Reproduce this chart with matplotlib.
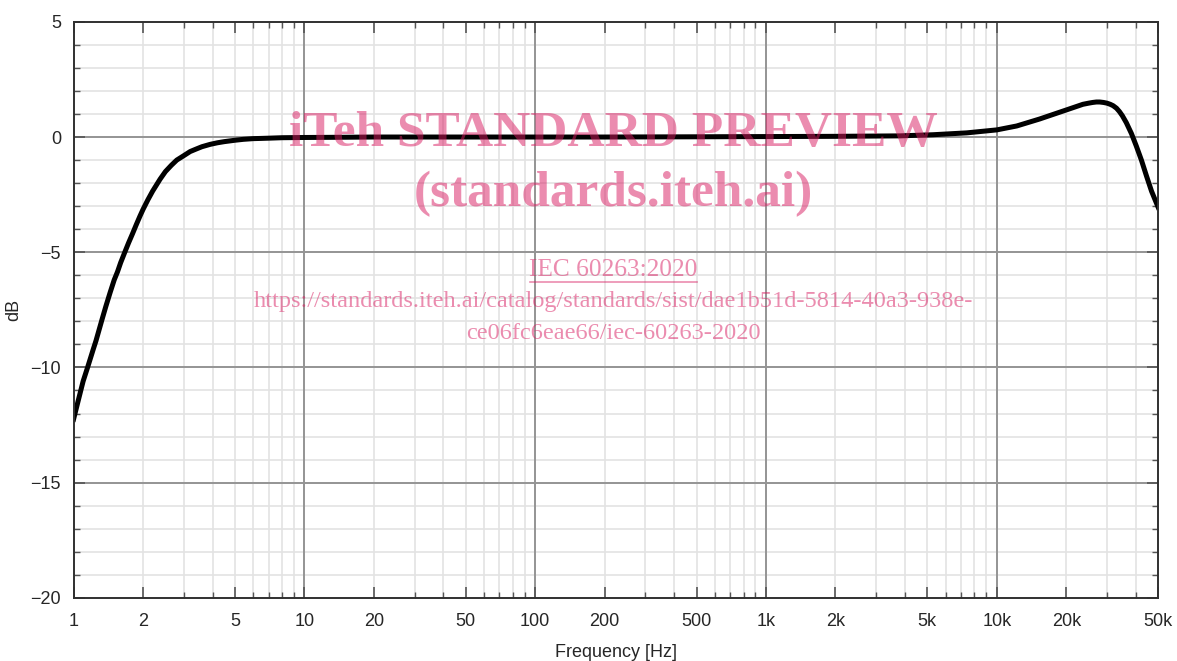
import matplotlib
matplotlib.use("Agg")
import matplotlib.pyplot as plt

# frequency response
freq = [1.0, 1.05, 1.1, 1.15, 1.218, 1.25, 1.33, 1.38, 1.44, 1.5, 1.55, 1.6, 1.67,
        1.73, 1.8, 1.87, 1.94, 2.0, 2.1, 2.2, 2.37, 2.5, 2.65, 2.8, 2.99, 3.2,
        3.4, 3.6, 3.9, 4.2, 4.5, 5.0, 5.44, 6.0, 6.5, 7.0, 8.0, 10, 15, 20, 30,
        50, 100, 200, 500, 1000, 2000, 3800, 5300, 7400, 10000, 12200, 15300,
        19800, 23600, 25000, 26000, 27000, 27900, 29000, 30000, 31000, 31900,
        33000, 34000, 35000, 36400, 38300, 40200, 42300, 44500, 46800, 50000]
gain = [-12.25, -11.4, -10.6, -10.0, -9.2, -8.85, -7.9, -7.35, -6.75, -6.2, -5.85,
        -5.45, -4.98, -4.6, -4.2, -3.8, -3.43, -3.14, -2.72, -2.35, -1.83, -1.5,
        -1.23, -1.0, -0.82, -0.63, -0.52, -0.42, -0.32, -0.25, -0.2, -0.14,
        -0.1, -0.07, -0.06, -0.05, -0.03, -0.02, -0.01, 0.0, 0.0, 0.0, 0.0, 0.0,
        0.01, 0.02, 0.03, 0.05, 0.1, 0.18, 0.31, 0.48, 0.78, 1.16, 1.42, 1.47,
        1.5, 1.52, 1.52, 1.5, 1.47, 1.42, 1.36, 1.25, 1.1, 0.92, 0.62, 0.15,
        -0.39, -1.0, -1.69, -2.35, -3.05]

xticks = [1, 2, 5, 10, 20, 50, 100, 200, 500, 1000, 2000, 5000, 10000, 20000, 50000]
xlabels = ['1', '2', '5', '10', '20', '50', '100', '200', '500',
           '1k', '2k', '5k', '10k', '20k', '50k']

plt.rcParams['font.family'] = ['Liberation Sans', 'DejaVu Sans']

fig = plt.figure(figsize=(11.77, 6.61), dpi=100)
ax = fig.add_axes([0.0625, 0.0955, 0.9215, 0.8715])

ax.set_xscale('log')
ax.set_xlim(1, 50000)
ax.set_ylim(-20, 5)

# grid: decades dark, 2..9 light
minor_x = [m * 10 ** d for d in range(5) for m in range(2, 10) if m * 10 ** d < 50000]
for v in minor_x:
    ax.axvline(v, color='#e3e3e3', lw=1.2, zorder=0)
for d in range(1, 5):
    ax.axvline(10 ** d, color='#949494', lw=1.4, zorder=1)
for v in range(-19, 5):
    ax.axhline(v, color='#e3e3e3', lw=1.2, zorder=0)
for v in range(-15, 5, 5):
    ax.axhline(v, color='#949494', lw=1.4, zorder=1)

ax.plot(freq, gain, color='black', lw=3.6, solid_joinstyle='round', zorder=3)

ax.set_xticks(xticks)
ax.set_xticklabels(xlabels)
ax.set_xticks([v for v in minor_x if v not in xticks], minor=True)
ax.set_xticklabels([], minor=True)
ax.set_yticks(range(-20, 6, 5))
ax.set_yticks(range(-20, 6), minor=True)

ax.tick_params(which='both', direction='in', top=True, right=True,
               color='#555555', labelsize=13, labelcolor='#262626')
ax.tick_params(axis='x', which='major', pad=11)
ax.tick_params(axis='y', which='major', pad=9)
ax.tick_params(which='major', length=8, width=1.2)
ax.tick_params(which='minor', length=4, width=1.0)
for s in ax.spines.values():
    s.set_color('#303030')
    s.set_linewidth(1.4)
    s.set_zorder(4)

ax.set_xlabel('Frequency [Hz]', fontsize=13, color='#262626', labelpad=10)
ax.set_ylabel('dB', fontsize=13, color='#262626', labelpad=6)

# watermark
wm = '#d81b60'
fig.text(0.521, 0.797, 'iTeh STANDARD PREVIEW', ha='center', va='center',
         family='Liberation Serif', weight='bold', fontsize=37, color=wm, alpha=0.5, zorder=10)
fig.text(0.521, 0.707, '(standards.iteh.ai)', ha='center', va='center',
         family='Liberation Serif', weight='bold', fontsize=37, color=wm, alpha=0.5, zorder=10)
fig.text(0.521, 0.592, 'IEC 60263:2020', ha='center', va='center',
         family='Liberation Serif', fontsize=18.3, color=wm, alpha=0.5, zorder=10)
fig.text(0.521, 0.544, 'https://standards.iteh.ai/catalog/standards/sist/dae1b51d-5814-40a3-938e-',
         ha='center', va='center', family='Liberation Serif', fontsize=17.6,
         color=wm, alpha=0.5, zorder=10)
fig.text(0.521, 0.496, 'ce06fc6eae66/iec-60263-2020', ha='center', va='center',
         family='Liberation Serif', fontsize=17.6, color=wm, alpha=0.5, zorder=10)
fig.lines.append(plt.Line2D([0.4505, 0.5925], [0.574, 0.574], transform=fig.transFigure,
                            color=wm, alpha=0.5, lw=1.2))

fig.savefig('out.png', dpi=100)
